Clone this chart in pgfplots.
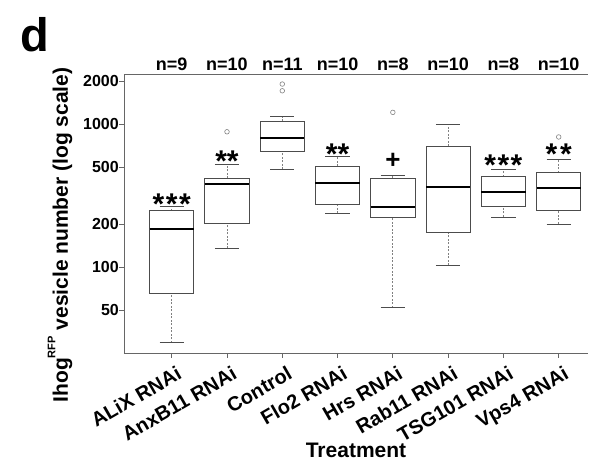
\documentclass[border=0pt]{standalone}
\usepackage{pgfplots}
\pgfplotsset{compat=1.18}
\usepackage{fontspec}
\setmainfont{Liberation Sans}
\newcommand{\fs}[1]{\fontsize{#1}{#1}\selectfont\bfseries}
\definecolor{axgray}{gray}{0.4}
\definecolor{boxgray}{gray}{0.3}
\definecolor{whgray}{gray}{0.5}
% #1 position, #2 lower whisker, #3 lower quartile, #4 median, #5 upper quartile, #6 upper whisker
\newcommand{\bx}[6]{%
  \pgfmathsetmacro\bxl{#1-0.4}\pgfmathsetmacro\bxr{#1+0.4}%
  \pgfmathsetmacro\cpl{#1-0.22}\pgfmathsetmacro\cpr{#1+0.22}%
  \addplot[whgray, line width=0.7pt, dash pattern=on 2pt off 1.5pt] coordinates {(#1,#2) (#1,#3)};
  \addplot[whgray, line width=0.7pt, dash pattern=on 2pt off 1.5pt] coordinates {(#1,#5) (#1,#6)};
  \addplot[boxgray, line width=0.8pt] coordinates {(\cpl,#2) (\cpr,#2)};
  \addplot[boxgray, line width=0.8pt] coordinates {(\cpl,#6) (\cpr,#6)};
  \addplot[boxgray, line width=0.8pt] coordinates {(\bxl,#3) (\bxr,#3) (\bxr,#5) (\bxl,#5)} -- cycle;
  \addplot[black, line width=2.2pt] coordinates {(\bxl,#4) (\bxr,#4)};
}
\newcommand{\xl}[2]{\node[font=\fs{20}, inner sep=0pt, rotate=30, anchor=north east] at ([xshift=4pt, yshift=-12pt]axis cs:#1,25) {#2};}
\begin{document}
\begin{tikzpicture}
\useasboundingbox (-124pt,-112pt) rectangle (470pt,353pt);
\begin{axis}[
  at={(0,0)}, anchor=south west,
  scale only axis, width=464pt, height=279pt,
  ymode=log, ymin=25, ymax=2240, xmin=0.137, xmax=8.53,
  axis x line*=bottom, axis y line*=left,
  axis line style={axgray, line width=0.8pt, -},
  xtick={1,2,3,4,5,6,7,8},
  xticklabels={},
  ytick={50,100,200,500,1000,2000},
  yticklabels={50,100,200,500,1000,2000},
  yminorticks=false,
  tick align=outside, major tick length=5pt,
  tick style={axgray, line width=0.8pt},
  yticklabel style={font=\fs{16}, inner sep=0pt, anchor=east},
  clip=false,
]
\bx{1}{29.6}{65.5}{184}{247}{267}
\bx{2}{135}{202}{379}{419}{519}
\bx{3}{482}{647}{794}{1049}{1125}
\bx{4}{238}{274}{389}{506}{597}
\bx{5}{51.9}{223}{264}{417}{440}
\bx{6}{103}{174}{365}{702}{1000}
\bx{7}{224}{267}{334}{428}{484}
\bx{8}{200}{247}{355}{456}{566}
% outliers
\addplot[only marks, mark=o, mark size=2.3pt, mark options={draw=gray, line width=0.6pt}] coordinates {(2,883) (3,1905) (3,1709) (5,1207) (8,812)};

\draw[axgray, line width=0.8pt] (rel axis cs:0,1) -- (rel axis cs:1,1);
% category labels
\xl{1}{ALiX RNAi}
\xl{2}{AnxB11 RNAi}
\xl{3}{Control}
\xl{4}{Flo2 RNAi}
\xl{5}{Hrs RNAi}
\xl{6}{Rab11 RNAi}
\xl{7}{TSG101 RNAi}
\xl{8}{Vps4 RNAi}
% sample sizes
\node[font=\fs{18}, anchor=base] at ([yshift=3pt]axis cs:1,2240) {n=9};
\node[font=\fs{18}, anchor=base] at ([yshift=3pt]axis cs:2,2240) {n=10};
\node[font=\fs{18}, anchor=base] at ([yshift=3pt]axis cs:3,2240) {n=11};
\node[font=\fs{18}, anchor=base] at ([yshift=3pt]axis cs:4,2240) {n=10};
\node[font=\fs{18}, anchor=base] at ([yshift=3pt]axis cs:5,2240) {n=8};
\node[font=\fs{18}, anchor=base] at ([yshift=3pt]axis cs:6,2240) {n=10};
\node[font=\fs{18}, anchor=base] at ([yshift=3pt]axis cs:7,2240) {n=8};
\node[font=\fs{18}, anchor=base] at ([yshift=3pt]axis cs:8,2240) {n=10};
% significance
\node[font=\fs{30}, anchor=base] at (axis cs:1,231) {*\kern1.5pt*\kern1.5pt*};
\node[font=\fs{30}, anchor=base] at (axis cs:2,462) {**};
\node[font=\fs{30}, anchor=base] at (axis cs:4,517) {**};
\node[font=\fs{26}, anchor=base] at (axis cs:5,488) {+};
\node[font=\fs{30}, anchor=base] at (axis cs:7,440) {*\kern1.5pt*\kern1.5pt*};
\node[font=\fs{30}, anchor=base] at (axis cs:8,517) {*\kern3pt*};
% labels
\node[font=\fs{21}, anchor=base] at ([yshift=-105pt]rel axis cs:0.5,0) {Treatment};
\node[font=\fs{21}, rotate=90, anchor=base] at ([xshift=-56pt, yshift=118pt]rel axis cs:0,0) {Ihog\raisebox{0.6em}{\fs{11}RFP} vesicle number (log scale)};
\node[font=\fs{47}, anchor=base west, inner sep=0pt] at ([xshift=-104pt, yshift=301pt]rel axis cs:0,0) {d};
\end{axis}
\end{tikzpicture}
\end{document}
